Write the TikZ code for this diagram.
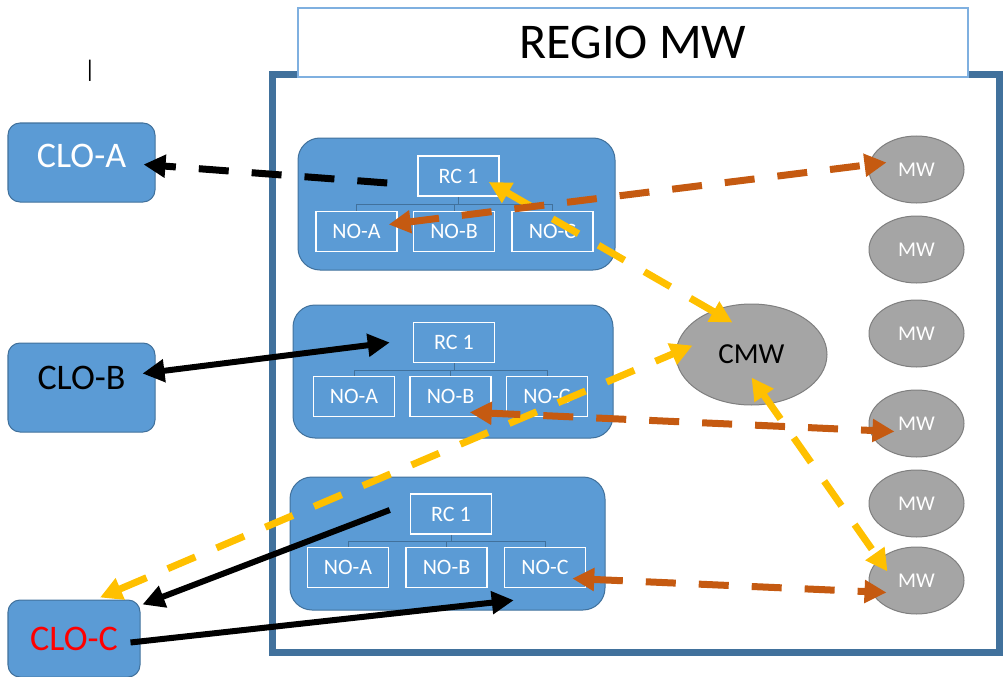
\documentclass[tikz,border=0pt]{standalone}
\usepackage{fontspec}
\setmainfont{Carlito}
\usetikzlibrary{arrows.meta,positioning,shapes.geometric}
\definecolor{boxblue}{HTML}{5B9BD5}
\definecolor{frameblue}{HTML}{41719C}
\definecolor{titleblue}{HTML}{7FB0E0}
\definecolor{mwgray}{HTML}{A5A5A5}
\definecolor{mwedge}{HTML}{7F7F7F}
\definecolor{linkyellow}{HTML}{FFC000}
\definecolor{linkorange}{HTML}{C55A11}

\begin{document}
\begin{tikzpicture}[
  x=10pt, y=-10pt,
  frame/.style ={draw=frameblue, line width=7pt, minimum width=727pt, minimum height=577pt},
  title/.style ={draw=titleblue, line width=1.5pt, fill=white, minimum width=670pt, minimum height=69pt, font=\fontsize{50}{60}\selectfont},
  group/.style ={draw=frameblue, fill=boxblue, line width=1pt, rounded corners=22pt},
  clo/.style   ={draw=frameblue, fill=boxblue, line width=1pt, rounded corners=12pt, minimum width=147pt, minimum height=79pt, font=\fontsize{36}{42}\selectfont},
  unit/.style  ={draw=white, line width=1.5pt, text=white, inner sep=0pt, minimum width=81pt, minimum height=40pt, font=\fontsize{22}{26}\selectfont},
  tree/.style  ={draw=frameblue, line width=0.8pt},
  mw/.style    ={ellipse, draw=mwedge, fill=mwgray, line width=1pt, minimum width=95pt, minimum height=67pt, text=white, font=\fontsize{21}{25}\selectfont},
  longdash/.style={dash pattern=on 30pt off 23pt},
  blk/.style   ={draw=black, line width=6pt},
  yel/.style   ={draw=linkyellow, line width=7pt, longdash},
  org/.style   ={draw=linkorange, line width=7pt, longdash},
  >={Triangle[length=22pt,width=22pt]}
]
\useasboundingbox (0,0) rectangle (100.5,67.7);

\node[frame] (regio) at (63.55,36.35) {};
\node[title] (head) at (63.3,4.25) {REGIO MW};
\node[font=\fontsize{24}{28}\selectfont] (cursor) at (9,7.1) {|};

% clusters
\node[clo, text=white, text depth=14pt] (cloa) at (8.15,16.25) {CLO-A};
\node[clo, text depth=20pt, minimum height=89pt] (clob) at (8.15,38.75) {CLO-B};
\node[clo, text=red, minimum width=132pt, minimum height=77pt] (cloc) at (7.4,63.85) {CLO-C};

% regional groups
\node[group, minimum width=317pt, minimum height=132pt] (grp1) at (45.65,20.4) {};
\node[unit] (rc1)  at (45.85,17.6) {RC 1};
\node[unit] (nob1) at (45.4,23.15) {NO-B};
\node[unit] (noa1) [left=15pt of nob1] {NO-A};
\node[unit] (noc1) [right=16pt of nob1] {NO-C};

\node[group, minimum width=320pt, minimum height=133pt] (grp2) at (45.3,37.15) {};
\node[unit] (rc2)  at (45.4,34.25) {RC 1};
\node[unit] (nob2) at (45.05,39.65) {NO-B};
\node[unit] (noa2) [left=14pt of nob2] {NO-A};
\node[unit] (noc2) [right=14pt of nob2] {NO-C};

\node[group, minimum width=315pt, minimum height=133pt] (grp3) at (44.75,54.35) {};
\node[unit] (rc3)  at (45.1,51.4) {RC 1};
\node[unit] (nob3) at (44.65,56.75) {NO-B};
\node[unit] (noa3) [left=16pt of nob3] {NO-A};
\node[unit] (noc3) [right=16pt of nob3] {NO-C};

\draw[tree] (rc1.south) -- ++(0,0.8) -| (noa1.north) (rc1.south) ++(0,0.8) -| (nob1.north) (rc1.south) ++(0,0.8) -| (noc1.north);
\draw[tree] (rc2.south) -- ++(0,0.7) -| (noa2.north) (rc2.south) ++(0,0.7) -| (nob2.north) (rc2.south) ++(0,0.7) -| (noc2.north);
\draw[tree] (rc3.south) -- ++(0,0.7) -| (noa3.north) (rc3.south) ++(0,0.7) -| (nob3.north) (rc3.south) ++(0,0.7) -| (noc3.north);

% middleware
\node[ellipse, draw=mwedge, fill=mwgray, line width=1pt, minimum width=151pt, minimum height=101pt, font=\fontsize{29}{34}\selectfont] (cmw) at (75.15,35.45) {CMW};
\node[mw] (mw1) at (91.65,16.95) {MW};
\node[mw] (mw2) at (91.65,24.95) {MW};
\node[mw] (mw3) at (91.65,33.35) {MW};
\node[mw] (mw4) at (91.65,42.35) {MW};
\node[mw] (mw5) at (91.65,50.35) {MW};
\node[mw] (mw6) at (91.65,58.05) {MW};

% links
\draw[blk, line width=7pt, longdash, ->] ([xshift=-30pt,yshift=-7pt]rc1.west) -- ([xshift=-12pt,yshift=-2pt]cloa.east);
\draw[blk, <->] ([xshift=-13pt,yshift=14pt]clob.east) -- ([xshift=-23pt]rc2.west);
\draw[blk, ->] ([xshift=-20pt,yshift=4pt]rc3.west) -- ([xshift=2pt,yshift=-5pt]cloc.north east);
\draw[blk, ->] ([xshift=-10pt,yshift=-4pt]cloc.east) -- ([xshift=10pt,yshift=-12pt]noc3.south west);

\draw[yel, <->] ([xshift=-11pt,yshift=-6pt]rc1.east) -- ([xshift=-19pt,yshift=-19pt]cmw.north);
\draw[yel, <->] ([xshift=26pt,yshift=2pt]cloc.north) -- ([xshift=17pt,yshift=9pt]cmw.west);
\draw[yel, <->] ([yshift=28pt]cmw.south) -- ([xshift=-29pt,yshift=9pt]mw6.center);

\draw[org, <->] ([xshift=-9pt,yshift=7pt]noa1.east) -- ([xshift=-30pt,yshift=7pt]mw1.center);
\draw[org, <->] ([xshift=-22pt,yshift=5pt]nob2.south east) -- ([xshift=-22pt,yshift=-8pt]mw4.center);
\draw[org, <->] ([xshift=-14pt,yshift=-11pt]noc3.east) -- ([xshift=-30pt,yshift=-12pt]mw6.center);
\end{tikzpicture}
\end{document}
